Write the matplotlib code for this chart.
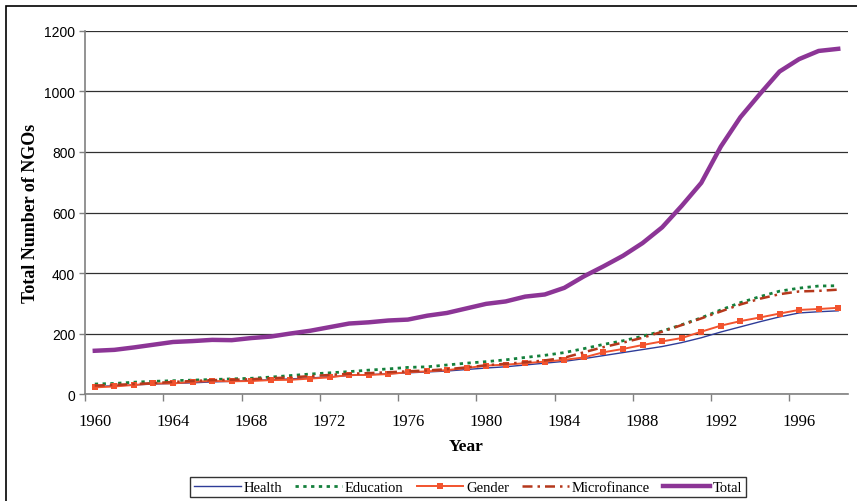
import numpy as np
import matplotlib
matplotlib.use('Agg')
import matplotlib.pyplot as plt
from matplotlib.patches import Rectangle


# ------------------- DATA -------------------
years = list(range(1960, 1999))

health = [25, 27, 30, 33, 35, 37, 40, 42, 45, 47, 50, 53, 57, 61, 64, 67, 70, 73, 76,
          81, 86, 90, 96, 102, 108, 117, 127, 137, 147, 157, 170, 186, 205, 222, 239,
          255, 268, 272, 275]
education = [33, 35, 39, 42, 44, 46, 48, 50, 52, 56, 61, 66, 70, 74, 79, 83, 88, 90, 96,
             102, 107, 113, 121, 128, 137, 150, 164, 176, 191, 208, 229, 252, 278, 302,
             322, 340, 350, 357, 358]
gender = [22, 25, 30, 35, 35, 40, 43, 42, 43, 46, 47, 51, 55, 63, 63, 66, 72, 75, 79,
          86, 94, 97, 102, 107, 113, 121, 138, 149, 162, 174, 185, 206, 226, 241, 253,
          266, 278, 281, 285]
microfinance = [28, 30, 33, 36, 40, 43, 46, 47, 49, 52, 55, 59, 63, 67, 69, 72, 75, 78,
                82, 88, 95, 100, 105, 111, 120, 138, 155, 170, 186, 206, 228, 250, 273,
                296, 315, 330, 339, 341, 345]
total = [143, 146, 154, 163, 172, 175, 179, 178, 185, 190, 200, 209, 221, 233, 237, 243,
         246, 259, 268, 283, 298, 306, 322, 329, 351, 389, 422, 457, 499, 551, 622, 698,
         818, 915, 992, 1066, 1107, 1134, 1141]

year_labels = [str(y) for y in range(1960, 1999, 4)]
y_ticks = [0, 200, 400, 600, 800, 1000, 1200]


def main():
    fig = plt.figure(figsize=(8.57, 5.02), dpi=100)
    ax = fig.add_axes([0.0992, 0.2131, 0.8903, 0.7232])

    # outer frame of the chart area
    fig.patches.append(Rectangle((6 / 857, -0.05), 1.1, 1 - 7 / 502 + 0.05,
                                 transform=fig.transFigure, fill=False,
                                 edgecolor='black', linewidth=1.2))

    ax.plot(years, health, color='#2E3C98', lw=1.0, label='Health')
    ax.plot(years, education, color='#14803C', lw=2.0, ls=(0, (1.2, 1.6)),
            label='Education')
    ax.plot(years, gender, color='#F2532E', lw=1.4, marker='s', ms=4.5,
            markeredgewidth=0, label='Gender')
    ax.plot(years, microfinance, color='#B5381C', lw=1.8, ls=(0, (4, 2, 1, 2)),
            label='Microfinance')
    ax.plot(years, total, color='#8C3596', lw=3.2, label='Total')

    ax.set_xlim(1959.5, 1998.5)
    ax.set_ylim(0, 1200)

    # category axis: tick marks on boundaries, labels on the years
    ax.set_xticks(np.arange(1959.5, 1998.5, 4))
    ax.set_xticklabels([])
    ax.set_xticks(list(range(1960, 1999, 4)), minor=True)
    ax.set_xticklabels(year_labels, minor=True, family='Liberation Serif', fontsize=12)
    ax.tick_params(axis='x', which='major', length=5, color='#808080', width=1)
    ax.tick_params(axis='x', which='minor', length=0, pad=14)

    ax.set_yticks(y_ticks)
    ax.set_yticklabels([str(v) for v in y_ticks], family='Liberation Sans', fontsize=10)
    ax.tick_params(axis='y', length=4, color='#808080', width=1, pad=3)

    ax.grid(axis='y', color='#303030', lw=0.9)
    ax.set_axisbelow(True)
    for s in ['top', 'right']:
        ax.spines[s].set_visible(False)
    for s in ['left', 'bottom']:
        ax.spines[s].set_color('#808080')
        ax.spines[s].set_linewidth(1.2)

    ax.set_xlabel('Year', family='Liberation Serif', fontweight='bold', fontsize=12.5,
                  labelpad=6)
    ax.set_ylabel('Total Number of NGOs', family='Liberation Serif', fontweight='bold',
                  fontsize=13, labelpad=4)

    leg = fig.legend(loc='center', bbox_to_anchor=(468 / 857, 1 - 488 / 502), ncol=5,
                     frameon=True, fancybox=False, edgecolor='black',
                     prop={'family': 'Liberation Serif', 'size': 10.5},
                     handlelength=3.2, handletextpad=0.2, columnspacing=0.9,
                     borderpad=0.25)
    leg.get_frame().set_linewidth(1.0)

    fig.savefig('out.png', dpi=100)
    plt.close(fig)


main()
